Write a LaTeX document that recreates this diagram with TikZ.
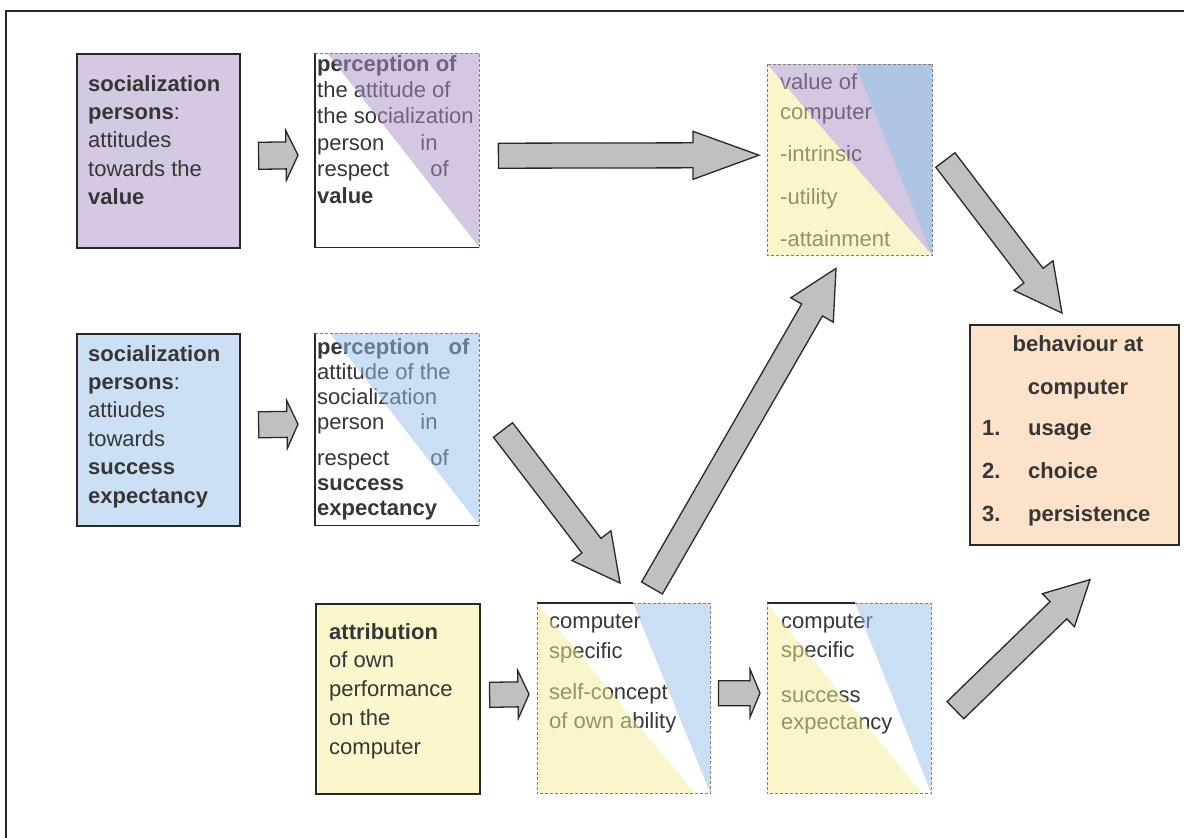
\documentclass[tikz,border=0pt]{standalone}
\usepackage{fontspec}
\setmainfont{Liberation Sans}
\usetikzlibrary{calc}
\definecolor{txt}{HTML}{363636}
\definecolor{purp}{RGB}{213,200,226}
\definecolor{blu}{RGB}{204,224,245}
\definecolor{yel}{RGB}{250,247,205}
\definecolor{peach}{RGB}{253,226,202}
\definecolor{purpO}{RGB}{171,145,197}
\definecolor{bluO}{RGB}{153,193,235}
\definecolor{yelO}{RGB}{245,239,155}
\definecolor{vbluO}{RGB}{97,141,205}
\definecolor{arrgray}{RGB}{192,192,192}
\definecolor{edge}{RGB}{40,40,40}
\newcommand\fatarrow[5]{%
  \coordinate (fa-n) at ($(#2)!#5!(#1)$);
  \draw[fatbody] ($(#1)!#3!90:(#2)$) -- ($(fa-n)!#3!90:(#2)$) -- ($(fa-n)!#4!90:(#2)$) -- (#2)
    -- ($(fa-n)!#4!-90:(#2)$) -- ($(fa-n)!#3!-90:(#2)$) -- ($(#1)!#3!-90:(#2)$) -- cycle;}
\begin{document}
\begin{tikzpicture}[x=1pt,y=-1pt,
  solidbox/.style={draw=edge, line width=1.6pt, anchor=north west, inner sep=0pt},
  plainbox/.style={anchor=north west, inner sep=0pt},
  body/.style={anchor=north west, inner sep=0pt, align=left, text=txt, font=\fontsize{22}{28.4}\selectfont},
  tint/.style={opacity=0.5},
  dashedge/.style={draw=gray, densely dashed, line width=0.8pt},
  solidedge/.style={draw=edge, line width=1.3pt},
  fatbody/.style={draw=edge, fill=arrgray, line width=1.3pt, line join=miter},
]
\useasboundingbox (0,0) rectangle (1184,838);
\fill[white] (0,0) rectangle (1184,838);
\draw[line width=2.5pt, edge] (6,850) -- (6,11) -- (1195,11);

% ---------- row A
\node[solidbox, fill=purp, minimum width=163pt, minimum height=194pt] (A1) at (76,53) {};
\node[body] (A1t) at (88,75) {\textbf{socialization}\\\textbf{persons}:\\attitudes\\towards the\\\textbf{value}};

\node[plainbox, minimum width=164pt, minimum height=194pt] (A2) at (315,53) {};
\node[body, font=\fontsize{22}{26.4}\selectfont] (A2t) at (317,55) {\textbf{perception of}\\the attitude of\\the socialization\\person\hspace{36pt}in\\respect\hspace{41pt}of\\\textbf{value}};
\fill[tint, purpO] ($(A2.north west)+(12,0)$) -- (A2.north east) -- (A2.south east) -- cycle;
\draw[solidedge] (A2.north west) -- (A2.south west) -- (A2.south east);
\draw[dashedge] (A2.north west) -- (A2.north east) -- (A2.south east);

% ---------- value box
\node[plainbox, minimum width=165pt, minimum height=191pt] (V) at (767,64) {};
\node[body, font=\fontsize{22}{42.5}\selectfont] (Vt) at (780,73) {value of\\[-12.5pt]computer\\-intrinsic\\-utility\\-attainment};
\fill[tint, yelO] (V.north west) -- (V.south east) -- (V.south west) -- cycle;
\fill[tint, purpO] (V.north west) -- ($(V.north west)+(88,0)$) -- (V.south east) -- cycle;
\fill[tint, vbluO] ($(V.north west)+(88,0)$) -- (V.north east) -- (V.south east) -- cycle;
\draw[dashedge] (V.north west) rectangle (V.south east);

% ---------- row B
\node[solidbox, fill=blu, minimum width=163pt, minimum height=192pt] (B1) at (76,333) {};
\node[body] (B1t) at (88,345) {\textbf{socialization}\\\textbf{persons}:\\attiudes\\towards\\\textbf{success}\\\textbf{expectancy}};

\node[plainbox, minimum width=164pt, minimum height=192pt] (B2) at (315,333) {};
\node[body, font=\fontsize{22}{25}\selectfont] (B2t) at (317,338) {\textbf{perception}\hspace{19pt}\textbf{of}\\attitude of the\\socialization\\person\hspace{36pt}in\\[11pt]respect\hspace{41pt}of\\\textbf{success}\\\textbf{expectancy}};
\fill[tint, bluO] ($(B2.north west)+(15,0)$) -- (B2.north east) -- (B2.south east) -- cycle;
\draw[solidedge] (B2.north west) -- (B2.south west) -- (B2.south east);
\draw[dashedge] (B2.north west) -- (B2.north east) -- (B2.south east);

% ---------- behaviour box
\node[solidbox, fill=peach, minimum width=209pt, minimum height=220pt] (Beh) at (969,324) {};
\node[body, anchor=north, align=center, font=\fontsize{22}{43}\selectfont\bfseries] (Beh1) at (1078,335) {behaviour at\\computer};
\node[body, font=\fontsize{22}{43}\selectfont\bfseries] (Beh2) at (982,420) {\makebox[46pt][l]{1.}usage\\\makebox[46pt][l]{2.}choice\\\makebox[46pt][l]{3.}persistence};

% ---------- row C
\node[solidbox, fill=yel, minimum width=164pt, minimum height=190pt] (C1) at (315,603) {};
\node[body, font=\fontsize{22}{28.75}\selectfont] (C1t) at (329,623) {\textbf{attribution}\\of own\\performance\\on the\\computer};

\node[plainbox, minimum width=173pt, minimum height=190pt] (C2) at (537,603) {};
\node[body, font=\fontsize{22}{29.5}\selectfont] (C2t) at (549,614.5) {computer\\specific\\[11.5pt]self-concept\\of own ability};
\fill[tint, yelO] (C2.north west) -- ($(C2.south west)+(158,0)$) -- (C2.south west) -- cycle;
\fill[tint, bluO] ($(C2.north west)+(96,0)$) -- (C2.north east) -- (C2.south east) -- cycle;
\draw[solidedge] (C2.north west) -- ($(C2.north west)+(96,0)$);
\draw[dashedge] ($(C2.north west)+(96,0)$) -- (C2.north east) -- (C2.south east) -- (C2.south west) -- (C2.north west);

\node[plainbox, minimum width=164pt, minimum height=190pt] (C3) at (767,603) {};
\node[body, font=\fontsize{22}{29}\selectfont] (C3t) at (781,614.5) {computer\\specific\\[16pt]success\\[-2pt]expectancy};
\fill[tint, yelO] (C3.north west) -- ($(C3.south west)+(155,0)$) -- (C3.south west) -- cycle;
\fill[tint, bluO] ($(C3.north west)+(88,0)$) -- (C3.north east) -- (C3.south east) -- cycle;
\draw[solidedge] (C3.north west) -- ($(C3.north west)+(88,0)$);
\draw[dashedge] ($(C3.north west)+(88,0)$) -- (C3.north east) -- (C3.south east) -- (C3.south west) -- (C3.north west);

% ---------- arrow end points
\coordinate (sA) at ($(A1.east)+(18,5)$);
\coordinate (eA) at ($(A2.west)+(-17,5)$);
\coordinate (sB) at ($(B1.east)+(18,-5)$);
\coordinate (eB) at ($(B2.west)+(-17,-5)$);
\coordinate (sC) at ($(C1.east)+(9,-4)$);
\coordinate (eC) at ($(C2.west)+(-8,-4)$);
\coordinate (sD) at ($(C2.east)+(8,-5)$);
\coordinate (eD) at ($(C3.west)+(-7,-5)$);
\coordinate (sAV) at ($(A2.east)+(19,5.5)$);
\coordinate (eAV) at ($(V.west)+(-8,-4.5)$);
\coordinate (sBC) at (503,430);
\coordinate (eBC) at ($(C2.north west)+(83,-20)$);
\coordinate (sCV) at ($(C2.north west)+(115,-15)$);
\coordinate (eCV) at ($(V.south west)+(69,13)$);
\coordinate (sVB) at ($(V.north east)+(13,96)$);
\coordinate (eVB) at ($(Beh.north west)+(93,-11)$);
\coordinate (sCB) at ($(C3.east)+(24,12)$);
\coordinate (eCB) at ($(Beh.south west)+(121,34)$);

\fatarrow{sA}{eA}{13.5pt}{25pt}{12pt}
\fatarrow{sB}{eB}{13pt}{24pt}{11pt}
\fatarrow{sC}{eC}{12.5pt}{24pt}{11pt}
\fatarrow{sD}{eD}{12.5pt}{24pt}{10pt}
\fatarrow{sAV}{eAV}{12.5pt}{24pt}{66pt}
\fatarrow{sBC}{eBC}{12pt}{24.5pt}{47pt}
\fatarrow{sCV}{eCV}{12pt}{24.5pt}{48pt}
\fatarrow{sVB}{eVB}{12pt}{24.5pt}{47pt}
\fatarrow{sCB}{eCB}{12pt}{23pt}{44pt}
\end{tikzpicture}
\end{document}
